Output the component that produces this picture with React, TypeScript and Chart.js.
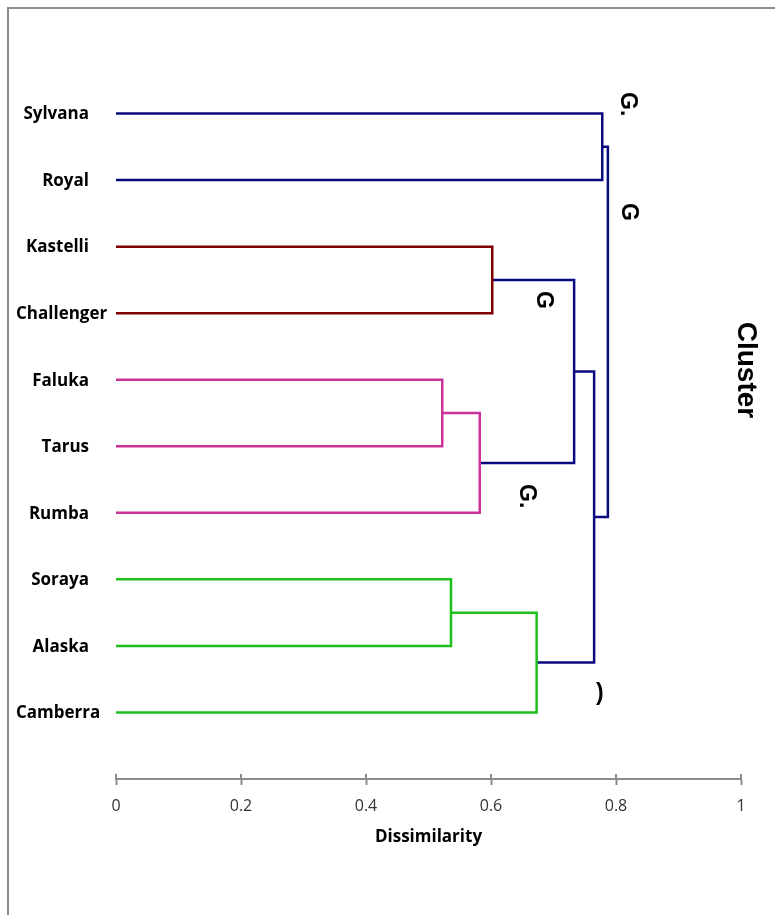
import React, { useEffect, useRef } from "react";
import { Chart, registerables } from "chart.js";

Chart.register(...registerables);

// Leaves, top to bottom
const leafNames = ["Sylvana", "Royal", "Kastelli", "Challenger", "Faluka", "Tarus", "Rumba", "Soraya", "Alaska", "Camberra"];
// Merges (nodes 0-9 are leaves, merge k becomes node 10 + k)
const mergeLeft = [0, 2, 4, 12, 11, 7, 15, 14, 10];
const mergeRight = [1, 3, 5, 6, 13, 8, 9, 16, 17];
const mergeHeight = [0.778, 0.602, 0.522, 0.582, 0.733, 0.536, 0.673, 0.765, 0.787];
const mergeGroup = [0, 1, 2, 2, 0, 3, 3, 0, 0];
const groupColors = ["#0b0b80", "#800000", "#cc3399", "#1ec01e"];

const xTicks = [0, 0.2, 0.4, 0.6, 0.8, 1];

// clipped cluster labels (data coordinates: dissimilarity, leaf index)
const annText = ["G.", "G", "G", "G.", ")"];
const annX = [0.818, 0.819, 0.683, 0.656, 0.774];
const annY = [-0.14, 1.48, 2.8, 5.75, 8.71];
const annRotate = [true, true, true, true, false];

const nodeY: number[] = leafNames.map((_, i) => i);
const nodeH: number[] = leafNames.map(() => 0);
mergeHeight.forEach((h, k) => {
  nodeY.push((nodeY[mergeLeft[k]] + nodeY[mergeRight[k]]) / 2);
  nodeH.push(h);
});

const datasets = mergeHeight.map((h, k) => {
  const l = mergeLeft[k];
  const r = mergeRight[k];
  return {
    label: "m" + k,
    data: [
      { x: nodeH[l], y: nodeY[l] },
      { x: h, y: nodeY[l] },
      { x: h, y: nodeY[r] },
      { x: nodeH[r], y: nodeY[r] },
    ],
    showLine: true,
    borderColor: groupColors[mergeGroup[k]],
    backgroundColor: groupColors[mergeGroup[k]],
    borderWidth: 2.5,
    pointRadius: 0,
    tension: 0,
    fill: false,
    borderJoinStyle: "miter" as const,
    borderCapStyle: "butt" as const,
  };
});

const decor = {
  id: "decor",
  beforeDraw(chart: any) {
    const ctx = chart.ctx;
    ctx.save();
    ctx.fillStyle = "#ffffff";
    ctx.fillRect(0, 0, chart.width, chart.height);
    ctx.strokeStyle = "#8c8c8c";
    ctx.lineWidth = 2;
    ctx.beginPath();
    ctx.moveTo(8, chart.height);
    ctx.lineTo(8, 8);
    ctx.lineTo(chart.width, 8);
    ctx.stroke();
    ctx.restore();
  },
  afterDraw(chart: any) {
    const ctx = chart.ctx;
    const xs = chart.scales.x;
    const ys = chart.scales.y;
    const area = chart.chartArea;
    ctx.save();
    // upper half of the cross ticks
    ctx.strokeStyle = "#8c8c8c";
    ctx.lineWidth = 2;
    xTicks.forEach((v) => {
      const px = Math.round(xs.getPixelForValue(v));
      ctx.beginPath();
      ctx.moveTo(px, area.bottom - 5);
      ctx.lineTo(px, area.bottom);
      ctx.stroke();
    });
    // leaf labels
    ctx.fillStyle = "#000";
    ctx.font = "bold 17px 'Open Sans'";
    ctx.textBaseline = "middle";
    ctx.textAlign = "left";
    leafNames.forEach((name, i) => {
      const w = ctx.measureText(name).width;
      const x = Math.max(16, 89 - w);
      ctx.fillText(name, x, ys.getPixelForValue(i) + 1);
    });
    // clipped cluster labels
    ctx.font = "bold 23px 'Liberation Sans'";
    ctx.textAlign = "center";
    annText.forEach((t, i) => {
      ctx.save();
      ctx.translate(xs.getPixelForValue(annX[i]), ys.getPixelForValue(annY[i]));
      if (annRotate[i]) ctx.rotate(Math.PI / 2);
      ctx.fillText(t, 0, 0);
      ctx.restore();
    });
    // right-side title
    ctx.font = "bold 28px 'Liberation Sans'";
    ctx.translate(area.right + 5, 370);
    ctx.rotate(Math.PI / 2);
    ctx.fillText("Cluster", 0, 0);
    ctx.restore();
  },
};

export default function App() {
  const ref = useRef<HTMLCanvasElement | null>(null);
  useEffect(() => {
    if (!ref.current) return;
    const chart = new Chart(ref.current, {
      type: "scatter",
      data: { datasets },
      options: {
        animation: false,
        responsive: false,
        layout: { padding: { left: 116, right: 34, top: 47, bottom: 0 } },
        plugins: { legend: { display: false }, tooltip: { enabled: false } },
        scales: {
          x: {
            type: "linear",
            position: "bottom",
            min: 0,
            max: 1,
            afterBuildTicks: (s: any) => {
              s.ticks = xTicks.map((v) => ({ value: v }));
            },
            afterFit: (s: any) => {
              s.height = 136;
            },
            ticks: {
              font: { family: "Open Sans", size: 16 },
              color: "#333",
              padding: 12,
              callback: (v: any) => String(v),
            },
            grid: {
              drawOnChartArea: false,
              drawTicks: true,
              tickLength: 6,
              tickWidth: 2,
              color: "#8c8c8c",
              tickColor: "#8c8c8c",
            },
            border: { display: true, color: "#8c8c8c", width: 2 },
            title: {
              display: true,
              text: "Dissimilarity",
              color: "#000",
              font: { family: "Open Sans", size: 17, weight: "bold" },
              padding: { top: 0, bottom: 68 },
            },
          },
          y: {
            type: "linear",
            min: -1,
            max: 10,
            reverse: true,
            display: false,
          },
        },
      } as any,
      plugins: [decor],
    });
    return () => chart.destroy();
  }, []);
  return (
    <div style={{ position: "absolute", left: 0, top: 0, width: 775, height: 915 }}>
      <canvas ref={ref} width={775} height={915} style={{ display: "block" }} />
    </div>
  );
}
